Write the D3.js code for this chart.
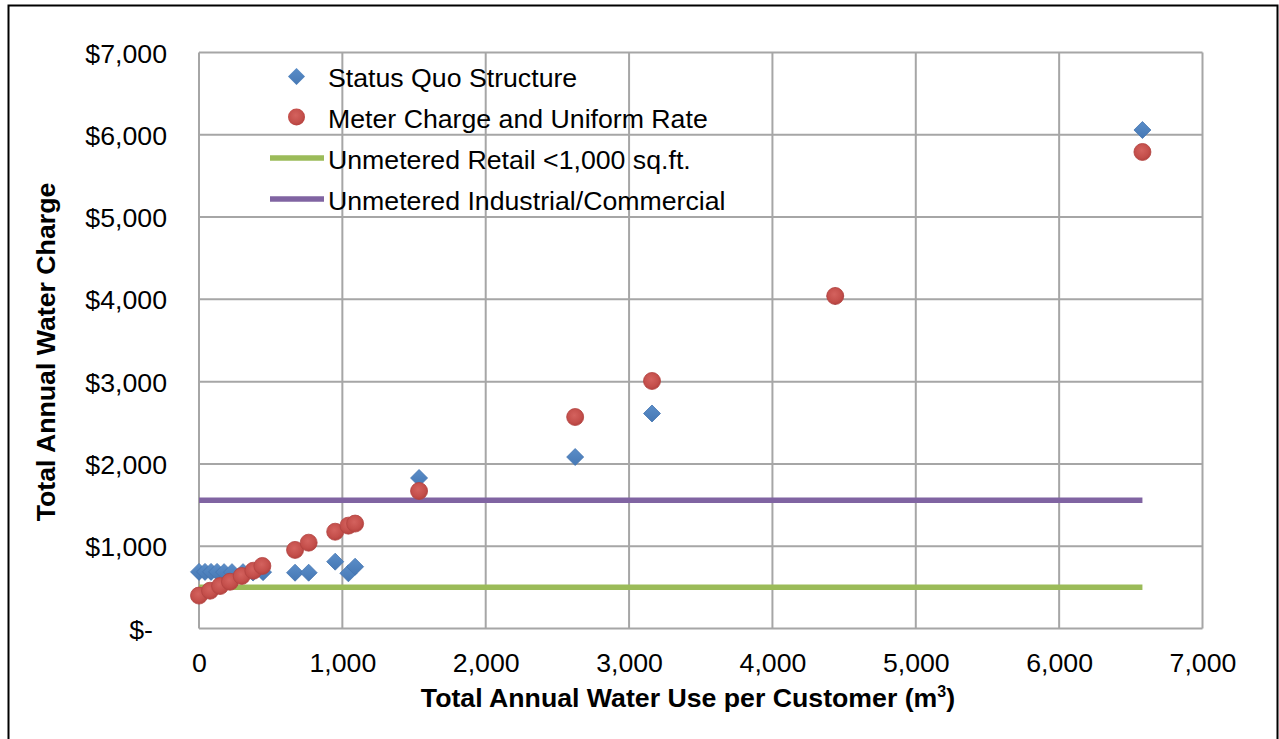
<!DOCTYPE html>
<html>
<head>
<meta charset="utf-8">
<script src="https://cdn.jsdelivr.net/npm/d3@7"></script>
<style>
  html, body { margin: 0; padding: 0; background: #fff; }
  svg { display: block; font-family: "Liberation Sans", Arial, sans-serif; }
</style>
</head>
<body>
<svg id="chart" width="1279" height="739"></svg>
<script>
// Annual water use per customer (m³) and the resulting annual charge ($)
const statusQuoUse    = [0, 42, 84, 126, 175, 230, 307, 377, 447, 670, 765, 950, 1042, 1089, 1535, 2624, 3160, 4438, 6581];
const statusQuoCharge = [688, 688, 688, 688, 685, 685, 685, 680, 685, 678, 678, 812, 671, 751, 1829, 2084, 2613, 4040, 6058];

const uniformUse    = [0, 77, 147, 216, 298, 379, 442, 670, 765, 950, 1042, 1089, 1535, 2624, 3160, 4438, 6581];
const uniformCharge = [400, 459, 516, 568, 638, 702, 760, 955, 1043, 1176, 1250, 1275, 1671, 2570, 3008, 4041, 5791];

// Flat unmetered charges, drawn across the range of customer use
const flatUse = [0, 6581];
const retailFlat = [500, 500];
const industrialFlat = [1560, 1560];

const xTicks = [0, 1000, 2000, 3000, 4000, 5000, 6000, 7000];
const yTicks = [0, 1000, 2000, 3000, 4000, 5000, 6000, 7000];

const legendLabels = [
  "Status Quo Structure",
  "Meter Charge and Uniform Rate",
  "Unmetered Retail <1,000 sq.ft.",
  "Unmetered Industrial/Commercial"
];

const colors = {
  blue: "#4F81BD",
  red: "#C0504D",
  green: "#9BBB59",
  purple: "#8064A2",
  grid: "#A6A6A6"
};

const FS = 26.7;

const svg = d3.select("#chart");

// outer chart frame
svg.append("rect")
  .attr("x", 8.5).attr("y", 5.5)
  .attr("width", 1269).attr("height", 760)
  .attr("fill", "#fff").attr("stroke", "#000").attr("stroke-width", 2);

const x = d3.scaleLinear().domain([0, 7000]).range([199, 1202.5]);
const y = d3.scaleLinear().domain([0, 7000]).range([628.5, 52.5]);

const defs = svg.append("defs");
const rg = defs.append("radialGradient").attr("id", "redGrad")
  .attr("cx", "45%").attr("cy", "40%").attr("r", "60%");
rg.append("stop").attr("offset", "0%").attr("stop-color", "#D4625E");
rg.append("stop").attr("offset", "70%").attr("stop-color", "#C44F4B");
rg.append("stop").attr("offset", "100%").attr("stop-color", "#B5423F");
const bg = defs.append("linearGradient").attr("id", "blueGrad")
  .attr("x1", "0").attr("y1", "0").attr("x2", "0").attr("y2", "1");
bg.append("stop").attr("offset", "0%").attr("stop-color", "#5A8DC8");
bg.append("stop").attr("offset", "100%").attr("stop-color", "#4678B4");

// gridlines
const grid = svg.append("g");
grid.selectAll(".vg").data(xTicks).join("line")
  .attr("x1", d => x(d)).attr("x2", d => x(d))
  .attr("y1", y(0)).attr("y2", y(7000))
  .attr("stroke", colors.grid).attr("stroke-width", 2);
grid.selectAll(".hg").data(yTicks).join("line")
  .attr("x1", x(0)).attr("x2", x(7000))
  .attr("y1", d => y(d)).attr("y2", d => y(d))
  .attr("stroke", colors.grid).attr("stroke-width", 2);

// axes (labels only, no tick marks)
const fmtX = d3.format(",");
const fmtY = d => d === 0 ? "$-" : "$" + d3.format(",")(d);

const xAxis = svg.append("g")
  .attr("transform", `translate(0,${y(0)})`)
  .call(d3.axisBottom(x).tickValues(xTicks).tickFormat(fmtX).tickSize(0).tickPadding(0));
xAxis.select(".domain").remove();
xAxis.selectAll("text")
  .attr("y", 43.5).attr("dy", null)
  .attr("font-size", FS).attr("fill", "#000")
  .style("font-family", "'Liberation Sans', Arial, sans-serif");

const yAxis = svg.append("g")
  .attr("transform", `translate(${x(0)},0)`)
  .call(d3.axisLeft(y).tickValues(yTicks).tickFormat(fmtY).tickSize(0).tickPadding(0));
yAxis.select(".domain").remove();
yAxis.selectAll("text")
  .attr("x", d => d === 0 ? -46 : -32).attr("dy", "0.36em")
  .attr("font-size", FS).attr("fill", "#000")
  .style("font-family", "'Liberation Sans', Arial, sans-serif");

// axis titles
svg.append("text")
  .attr("x", 688).attr("y", 707)
  .attr("text-anchor", "middle")
  .attr("font-size", FS).attr("font-weight", "bold")
  .text("Total Annual Water Use per Customer (m")
  .append("tspan").attr("font-size", 16).attr("dy", -10).text("3")
  .clone(true).attr("font-size", FS).attr("dy", 10).text(")");

svg.append("text")
  .attr("transform", "translate(55,352) rotate(-90)")
  .attr("text-anchor", "middle")
  .attr("font-size", FS).attr("font-weight", "bold")
  .text("Total Annual Water Charge");

// flat-rate lines
const line = d3.line().x(d => x(d[0])).y(d => y(d[1]));
svg.append("path")
  .datum(flatUse.map((u, i) => [u, retailFlat[i]]))
  .attr("d", line).attr("fill", "none")
  .attr("stroke", colors.green).attr("stroke-width", 5.5);
svg.append("path")
  .datum(flatUse.map((u, i) => [u, industrialFlat[i]]))
  .attr("d", line).attr("fill", "none")
  .attr("stroke", colors.purple).attr("stroke-width", 5.5);

// status quo points (diamonds)
const diamond = (cx, cy, r) => `M${cx},${cy - r}L${cx + r},${cy}L${cx},${cy + r}L${cx - r},${cy}Z`;
svg.append("g").selectAll("path")
  .data(statusQuoUse.map((u, i) => [u, statusQuoCharge[i]]))
  .join("path")
  .attr("d", d => diamond(x(d[0]), y(d[1]), 8.5))
  .attr("fill", "url(#blueGrad)")
  .attr("stroke", "#4274B0").attr("stroke-width", 0.8);

// meter charge + uniform rate points (circles)
svg.append("g").selectAll("circle")
  .data(uniformUse.map((u, i) => [u, uniformCharge[i]]))
  .join("circle")
  .attr("cx", d => x(d[0])).attr("cy", d => y(d[1]))
  .attr("r", 8.5)
  .attr("fill", "url(#redGrad)")
  .attr("stroke", "#B24340").attr("stroke-width", 0.8);

// legend
const lg = svg.append("g");
const rowY = [76.5, 117, 158, 199];
lg.append("path").attr("d", diamond(296.5, rowY[0], 8.5)).attr("fill", "url(#blueGrad)");
lg.append("circle").attr("cx", 296.5).attr("cy", rowY[1]).attr("r", 8.5).attr("fill", "url(#redGrad)");
lg.append("line").attr("x1", 270).attr("x2", 324).attr("y1", rowY[2]).attr("y2", rowY[2])
  .attr("stroke", colors.green).attr("stroke-width", 5.5);
lg.append("line").attr("x1", 270).attr("x2", 324).attr("y1", rowY[3]).attr("y2", rowY[3])
  .attr("stroke", colors.purple).attr("stroke-width", 5.5);
lg.selectAll("text").data(legendLabels).join("text")
  .attr("x", 328).attr("y", (d, i) => rowY[i] + 10.5)
  .attr("font-size", FS).attr("fill", "#000")
  .text(d => d);
</script>
</body>
</html>
